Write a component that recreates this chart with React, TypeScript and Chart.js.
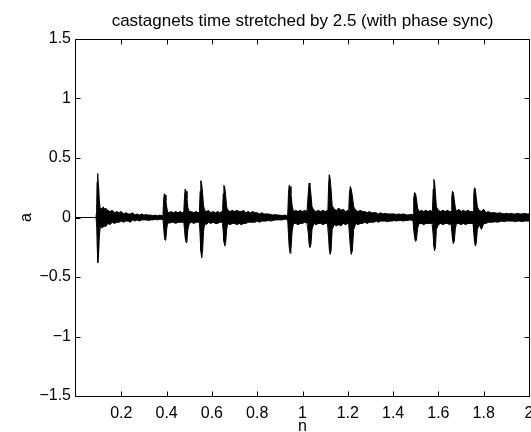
import React, { useEffect, useRef } from "react";
import { Chart, registerables } from "chart.js";

Chart.register(...registerables);

const titleText = "castagnets time stretched by 2.5 (with phase sync)";
const xLabel = "n";
const yLabel = "a";
const xTicks = [0.2, 0.4, 0.6, 0.8, 1, 1.2, 1.4, 1.6, 1.8, 2];
const yTicks = [-1.5, -1, -0.5, 0, 0.5, 1, 1.5];

// Envelope of the waveform (time n, upper amplitude, lower amplitude)
const timeN = [
  0, 0.088, 0.091, 0.093, 0.095, 0.097, 0.1, 0.103, 0.107, 0.11, 0.115, 0.12, 0.125, 0.13, 0.14, 0.15, 0.16, 0.17, 0.18, 0.19, 0.2, 0.21, 0.22, 0.23, 0.24, 0.25, 0.26, 0.27, 0.28, 0.29, 0.3, 0.31, 0.32, 0.33, 0.34, 0.35, 0.36, 0.37, 0.38,
  0.384, 0.387, 0.39, 0.393, 0.397, 0.401, 0.405, 0.41, 0.42, 0.43, 0.44, 0.45, 0.46, 0.47,
  0.476, 0.479, 0.482, 0.486, 0.49, 0.494, 0.5, 0.51, 0.52, 0.53, 0.54,
  0.545, 0.548, 0.551, 0.555, 0.559, 0.563, 0.568, 0.575, 0.585, 0.595, 0.605, 0.615, 0.625, 0.635, 0.643,
  0.647, 0.65, 0.653, 0.657, 0.661, 0.665, 0.67, 0.68, 0.69, 0.7, 0.71, 0.72, 0.73, 0.74, 0.75, 0.76, 0.77, 0.78, 0.79, 0.8, 0.81, 0.82, 0.83, 0.84, 0.85, 0.86, 0.87, 0.88, 0.89, 0.9, 0.91, 0.92, 0.93,
  0.935, 0.938, 0.941, 0.945, 0.949, 0.954, 0.96, 0.97, 0.98, 0.99, 1.0, 1.01, 1.02,
  1.023, 1.026, 1.029, 1.033, 1.037, 1.042, 1.05, 1.06, 1.07, 1.08, 1.09, 1.1, 1.11,
  1.112, 1.115, 1.118, 1.122, 1.126, 1.131, 1.14, 1.15, 1.16, 1.17, 1.18, 1.19, 1.2,
  1.204, 1.207, 1.211, 1.215, 1.22, 1.226, 1.235, 1.245, 1.255, 1.265, 1.275, 1.285, 1.295, 1.305, 1.315, 1.325, 1.335, 1.345, 1.355, 1.365, 1.375, 1.385, 1.395, 1.405, 1.415, 1.425, 1.435, 1.445, 1.455, 1.465, 1.475,
  1.488, 1.491, 1.495, 1.499, 1.503, 1.508, 1.515, 1.525, 1.535, 1.545, 1.555, 1.565, 1.572,
  1.574, 1.577, 1.58, 1.583, 1.587, 1.591, 1.6, 1.61, 1.62, 1.63, 1.64, 1.65,
  1.656, 1.659, 1.662, 1.666, 1.67, 1.675, 1.68, 1.69, 1.7, 1.71, 1.72, 1.73, 1.74, 1.75,
  1.753, 1.756, 1.759, 1.763, 1.767, 1.772, 1.78, 1.79, 1.8, 1.81, 1.82, 1.83, 1.84, 1.85, 1.86, 1.87, 1.88, 1.89, 1.9, 1.91, 1.92, 1.93, 1.94, 1.95, 1.96, 1.97, 1.98, 1.99, 2.0,
];

const upperA = [
  0, 0, 0.05, 0.3, 0.37, 0.34, 0.26, 0.14, 0.07, 0.08, 0.06, 0.09, 0.07, 0.08, 0.06, 0.05, 0.06, 0.04, 0.05, 0.04, 0.05, 0.03, 0.04, 0.03, 0.03, 0.04, 0.02, 0.03, 0.02, 0.03, 0.02, 0.025, 0.02, 0.02, 0.015, 0.02, 0.015, 0.02, 0.015,
  0.02, 0.15, 0.2, 0.19, 0.14, 0.08, 0.05, 0.04, 0.05, 0.04, 0.05, 0.04, 0.05, 0.04,
  0.05, 0.17, 0.24, 0.22, 0.16, 0.08, 0.05, 0.05, 0.04, 0.05, 0.04,
  0.05, 0.22, 0.31, 0.28, 0.2, 0.1, 0.06, 0.05, 0.06, 0.04, 0.05, 0.04, 0.05, 0.04, 0.05,
  0.05, 0.2, 0.27, 0.25, 0.18, 0.09, 0.06, 0.05, 0.06, 0.05, 0.06, 0.05, 0.05, 0.06, 0.04, 0.05, 0.04, 0.05, 0.04, 0.04, 0.03, 0.04, 0.03, 0.03, 0.03, 0.025, 0.02, 0.025, 0.02, 0.02, 0.015, 0.02, 0.015,
  0.03, 0.2, 0.27, 0.26, 0.2, 0.1, 0.05, 0.06, 0.05, 0.06, 0.05, 0.06, 0.05,
  0.05, 0.22, 0.29, 0.27, 0.2, 0.09, 0.06, 0.05, 0.06, 0.05, 0.06, 0.05, 0.06,
  0.05, 0.26, 0.36, 0.33, 0.24, 0.1, 0.07, 0.06, 0.08, 0.06, 0.07, 0.05, 0.06,
  0.05, 0.2, 0.26, 0.24, 0.18, 0.09, 0.06, 0.05, 0.06, 0.05, 0.05, 0.04, 0.05, 0.04, 0.04, 0.04, 0.03, 0.04, 0.03, 0.035, 0.03, 0.03, 0.03, 0.03, 0.025, 0.03, 0.025, 0.03, 0.025, 0.02, 0.025,
  0.025, 0.16, 0.21, 0.2, 0.16, 0.08, 0.05, 0.06, 0.05, 0.06, 0.05, 0.06, 0.05,
  0.06, 0.24, 0.32, 0.3, 0.2, 0.09, 0.06, 0.05, 0.06, 0.05, 0.06, 0.05,
  0.05, 0.17, 0.22, 0.21, 0.15, 0.08, 0.05, 0.07, 0.05, 0.06, 0.05, 0.06, 0.05, 0.05,
  0.05, 0.19, 0.25, 0.24, 0.17, 0.09, 0.06, 0.05, 0.07, 0.04, 0.05, 0.04, 0.04, 0.04, 0.035, 0.04, 0.035, 0.03, 0.035, 0.03, 0.035, 0.03, 0.03, 0.035, 0.03, 0.03, 0.035, 0.03, 0.03,
];

const lowerA = [
  0, 0, -0.05, -0.2, -0.33, -0.38, -0.3, -0.16, -0.08, -0.07, -0.09, -0.08, -0.07, -0.08, -0.05, -0.06, -0.04, -0.05, -0.04, -0.04, -0.03, -0.04, -0.03, -0.03, -0.04, -0.02, -0.03, -0.02, -0.03, -0.02, -0.02, -0.02, -0.025, -0.02, -0.02, -0.015, -0.02, -0.015, -0.015,
  -0.02, -0.08, -0.16, -0.19, -0.17, -0.09, -0.04, -0.05, -0.04, -0.04, -0.05, -0.04, -0.04, -0.04,
  -0.04, -0.1, -0.17, -0.21, -0.19, -0.1, -0.05, -0.04, -0.05, -0.04, -0.04,
  -0.04, -0.15, -0.28, -0.34, -0.28, -0.12, -0.05, -0.06, -0.04, -0.05, -0.04, -0.05, -0.05, -0.04, -0.04,
  -0.05, -0.12, -0.2, -0.24, -0.21, -0.1, -0.05, -0.06, -0.05, -0.05, -0.06, -0.05, -0.06, -0.05, -0.05, -0.04, -0.04, -0.04, -0.04, -0.03, -0.04, -0.03, -0.03, -0.03, -0.025, -0.03, -0.025, -0.02, -0.02, -0.02, -0.02, -0.015, -0.015,
  -0.03, -0.14, -0.24, -0.3, -0.27, -0.12, -0.05, -0.05, -0.06, -0.05, -0.05, -0.04, -0.05,
  -0.05, -0.14, -0.22, -0.25, -0.23, -0.1, -0.05, -0.06, -0.05, -0.05, -0.06, -0.05, -0.05,
  -0.05, -0.16, -0.26, -0.31, -0.28, -0.1, -0.06, -0.07, -0.06, -0.07, -0.05, -0.06, -0.05,
  -0.05, -0.14, -0.24, -0.31, -0.28, -0.1, -0.05, -0.06, -0.05, -0.05, -0.04, -0.05, -0.04, -0.04, -0.04, -0.03, -0.04, -0.03, -0.03, -0.03, -0.035, -0.03, -0.03, -0.025, -0.03, -0.025, -0.025, -0.03, -0.025, -0.025, -0.02,
  -0.025, -0.1, -0.17, -0.2, -0.19, -0.09, -0.05, -0.05, -0.06, -0.05, -0.05, -0.05, -0.05,
  -0.05, -0.15, -0.24, -0.28, -0.25, -0.1, -0.06, -0.05, -0.06, -0.05, -0.05, -0.06,
  -0.05, -0.11, -0.18, -0.22, -0.2, -0.09, -0.05, -0.05, -0.06, -0.05, -0.06, -0.05, -0.05, -0.05,
  -0.05, -0.12, -0.2, -0.24, -0.22, -0.1, -0.06, -0.1, -0.05, -0.05, -0.04, -0.04, -0.04, -0.035, -0.04, -0.035, -0.03, -0.035, -0.03, -0.03, -0.03, -0.03, -0.035, -0.03, -0.03, -0.035, -0.03, -0.03, -0.03,
];

const FONT = '"Liberation Sans", Arial, Helvetica, sans-serif';

const fmtTick = (v: number) => (v < 0 ? "\u2212" + String(-v) : String(v));

const boxPlugin = {
  id: "matlabBox",
  afterDraw(chart: any) {
    const { ctx, chartArea: a, scales } = chart;
    ctx.save();
    ctx.strokeStyle = "#000";
    ctx.lineWidth = 1;
    const L = Math.round(a.left) - 0.5;
    const R = Math.round(a.right) + 0.5;
    const T = Math.round(a.top) + 0.5;
    const B = Math.round(a.bottom) + 0.5;
    const len = 5;
    ctx.beginPath();
    ctx.rect(L, T, R - L, B - T);
    for (const v of xTicks) {
      const p = Math.round(scales.x.getPixelForValue(v)) + 0.5;
      ctx.moveTo(p, B);
      ctx.lineTo(p, B - len);
      ctx.moveTo(p, T);
      ctx.lineTo(p, T + len);
    }
    for (const v of yTicks) {
      const p = Math.round(scales.y.getPixelForValue(v)) + 0.5;
      ctx.moveTo(L, p);
      ctx.lineTo(L + len, p);
      ctx.moveTo(R, p);
      ctx.lineTo(R - len, p);
    }
    ctx.stroke();
    ctx.restore();
  },
};

export default function App() {
  const ref = useRef<HTMLCanvasElement>(null);

  useEffect(() => {
    document.body.style.margin = "0";
    Chart.defaults.font.family = FONT;
    Chart.defaults.color = "#000";
    const upper = timeN.map((x, i) => ({ x, y: upperA[i] }));
    const lower = timeN.map((x, i) => ({ x, y: lowerA[i] }));
    const chart = new Chart(ref.current!, {
      type: "line",
      data: {
        datasets: [
          {
            data: upper,
            borderColor: "#000",
            backgroundColor: "#000",
            borderWidth: 1,
            pointRadius: 0,
            tension: 0,
            fill: "+1",
          },
          {
            data: lower,
            borderColor: "#000",
            backgroundColor: "#000",
            borderWidth: 1,
            pointRadius: 0,
            tension: 0,
            fill: false,
          },
        ],
      },
      options: {
        animation: false,
        responsive: false,
        devicePixelRatio: 1,
        events: [],
        layout: { padding: { top: 0, left: 0, right: 2, bottom: 0 } },
        plugins: {
          legend: { display: false },
          tooltip: { enabled: false },
          title: {
            display: true,
            fullSize: false,
            text: titleText,
            color: "#000",
            font: { family: FONT, size: 17, weight: "normal", lineHeight: 1.2 },
            padding: { top: 10.8, bottom: 7.8 },
          },
        },
        scales: {
          x: {
            type: "linear",
            min: 0,
            max: 2,
            grid: { display: false, drawTicks: false },
            border: { display: false },
            afterBuildTicks: (s: any) => {
              s.ticks = xTicks.map((value) => ({ value }));
            },
            afterFit: (s: any) => {
              s.height = 36;
              s.paddingLeft = 0;
              s.paddingRight = 0;
            },
            ticks: {
              autoSkip: false,
              maxRotation: 0,
              minRotation: 0,
              padding: 8,
              color: "#000",
              font: { family: FONT, size: 16 },
              callback: (v: any) => fmtTick(Number(v)),
            },
            title: {
              display: true,
              text: xLabel,
              color: "#000",
              font: { family: FONT, size: 16, lineHeight: 0.725 },
              padding: { top: 0, bottom: 0 },
            },
          },
          y: {
            type: "linear",
            min: -1.5,
            max: 1.5,
            grid: { display: false, drawTicks: false },
            border: { display: false },
            afterBuildTicks: (s: any) => {
              s.ticks = yTicks.map((value) => ({ value }));
            },
            afterFit: (s: any) => {
              s.width = 76;
              s.paddingTop = 0;
              s.paddingBottom = 0;
            },
            ticks: {
              autoSkip: false,
              padding: 5,
              color: "#000",
              font: { family: FONT, size: 16 },
              callback: (v: any) => fmtTick(Number(v)),
            },
            title: {
              display: true,
              text: yLabel,
              color: "#000",
              font: { family: FONT, size: 16, lineHeight: 1.2 },
              padding: { top: 16.6, bottom: 0 },
            },
          },
        },
      },
      plugins: [boxPlugin],
    });
    return () => chart.destroy();
  }, []);

  return (
    <div style={{ width: 531, height: 432 }}>
      <canvas ref={ref} width={531} height={432} style={{ display: "block" }} />
    </div>
  );
}
